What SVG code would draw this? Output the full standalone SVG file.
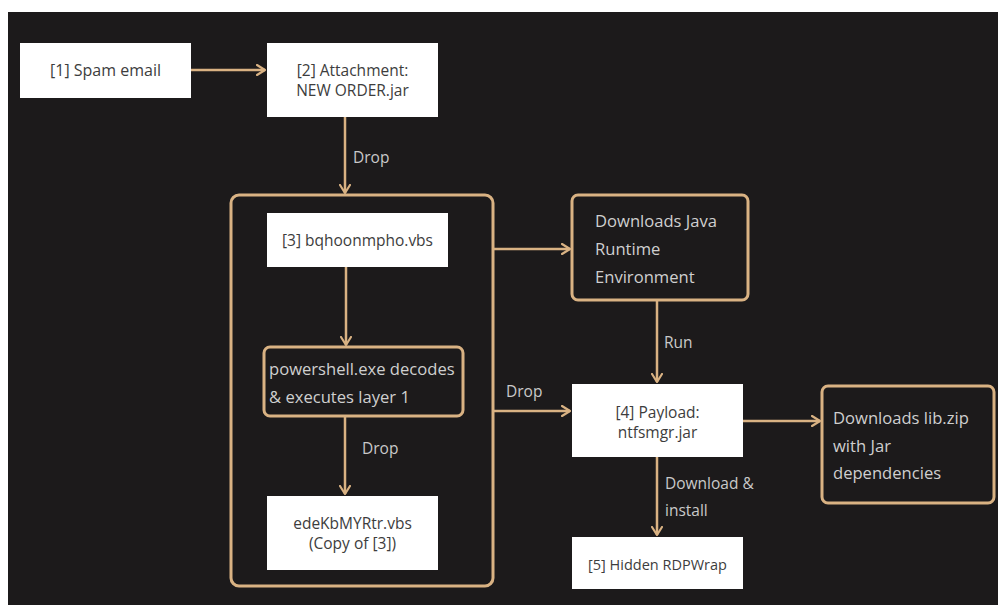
<svg xmlns="http://www.w3.org/2000/svg" width="998" height="605" viewBox="0 0 998 605">
  <defs>
    <marker id="chev" viewBox="0 0 10 12" refX="9" refY="6" markerWidth="10" markerHeight="12" markerUnits="userSpaceOnUse" orient="auto">
      <path d="M1,1 L9,6 L1,11" fill="none" stroke="#d9b283" stroke-width="2.2" stroke-linecap="round" stroke-linejoin="round"/>
    </marker>
    <style>
      .light { fill: #ffffff; }
      .dark { fill: #1c1a1b; stroke: #d9b283; stroke-width: 3; }
      .frame { fill: none; stroke: #d9b283; stroke-width: 3; }
      .edge { fill: none; stroke: #d9b283; stroke-width: 2.5; marker-end: url(#chev); }
      text { font-family: "Open Sans", "Noto Sans", sans-serif; font-size: 15.5px; }
      .t-in { fill: #3d3d3d; text-anchor: middle; dominant-baseline: central; }
      .t-out { fill: #cfcfcf; font-size: 16.6px; dominant-baseline: central; }
      .lbl { fill: #c9c9c9; font-size: 15.5px; dominant-baseline: central; }
      .small { font-size: 14.5px; }
      .big { font-size: 16px; }
    </style>
  </defs>

  <!-- page margin and canvas -->
  <rect x="0" y="0" width="998" height="605" fill="#ffffff"/>
  <rect x="8" y="12" width="990" height="593" fill="#1c1a1b"/>

  <!-- connectors -->
  <g id="connectors">
    <line class="edge" x1="191" y1="70" x2="265" y2="70"/>
    <line class="edge" x1="345" y1="117" x2="345" y2="193"/>
    <line class="edge" x1="346" y1="267" x2="346" y2="345"/>
    <line class="edge" x1="345" y1="416" x2="345" y2="494"/>
    <line class="edge" x1="493" y1="249" x2="570" y2="249"/>
    <line class="edge" x1="493" y1="411" x2="570" y2="411"/>
    <line class="edge" x1="657" y1="300" x2="657" y2="382"/>
    <line class="edge" x1="743" y1="421" x2="820" y2="421"/>
    <line class="edge" x1="657" y1="457" x2="657" y2="535"/>
    <text class="lbl" x="353" y="157">Drop</text>
    <text class="lbl" x="362" y="448">Drop</text>
    <text class="lbl" x="506" y="391">Drop</text>
    <text class="lbl" x="664" y="342">Run</text>
    <text class="lbl" x="665" y="483">Download &amp;</text>
    <text class="lbl" x="665" y="510">install</text>
  </g>

  <!-- dropped script container -->
  <g id="container">
    <rect class="frame" x="231" y="195" width="262" height="391" rx="8"/>
  </g>

  <g id="n1">
    <rect class="light" x="20" y="43" width="171" height="55"/>
    <text class="t-in big" x="105.5" y="70">[1] Spam email</text>
  </g>

  <g id="n2">
    <rect class="light" x="267" y="43" width="171" height="74"/>
    <text class="t-in" x="352.5" y="70">[2] Attachment:</text>
    <text class="t-in" x="352.5" y="90">NEW ORDER.jar</text>
  </g>

  <g id="n3">
    <rect class="light" x="267" y="213" width="181" height="54"/>
    <text class="t-in" x="357.5" y="240">[3] bqhoonmpho.vbs</text>
  </g>

  <g id="n-powershell">
    <rect class="dark" x="264" y="347" width="199" height="69" rx="6"/>
    <text class="t-out" x="269" y="368">powershell.exe decodes</text>
    <text class="t-out" x="269" y="396">&amp; executes layer 1</text>
  </g>

  <g id="n-copy">
    <rect class="light" x="267" y="496" width="171" height="74"/>
    <text class="t-in" x="352.5" y="523">edeKbMYRtr.vbs</text>
    <text class="t-in" x="352.5" y="543">(Copy of [3])</text>
  </g>

  <g id="n-jre">
    <rect class="dark" x="572" y="195" width="176" height="105" rx="6"/>
    <text class="t-out" x="595" y="220">Downloads Java</text>
    <text class="t-out" x="595" y="248">Runtime</text>
    <text class="t-out" x="595" y="276">Environment</text>
  </g>

  <g id="n4">
    <rect class="light" x="572" y="384" width="171" height="73"/>
    <text class="t-in" x="657.5" y="412">[4] Payload:</text>
    <text class="t-in" x="657.5" y="432">ntfsmgr.jar</text>
  </g>

  <g id="n-libzip">
    <rect class="dark" x="822" y="386" width="172" height="117" rx="6"/>
    <text class="t-out" x="833" y="417">Downloads lib.zip</text>
    <text class="t-out" x="833" y="445">with Jar</text>
    <text class="t-out" x="833" y="472">dependencies</text>
  </g>

  <g id="n5">
    <rect class="light" x="572" y="537" width="171" height="52"/>
    <text class="t-in small" x="657.5" y="564">[5] Hidden RDPWrap</text>
  </g>
</svg>
